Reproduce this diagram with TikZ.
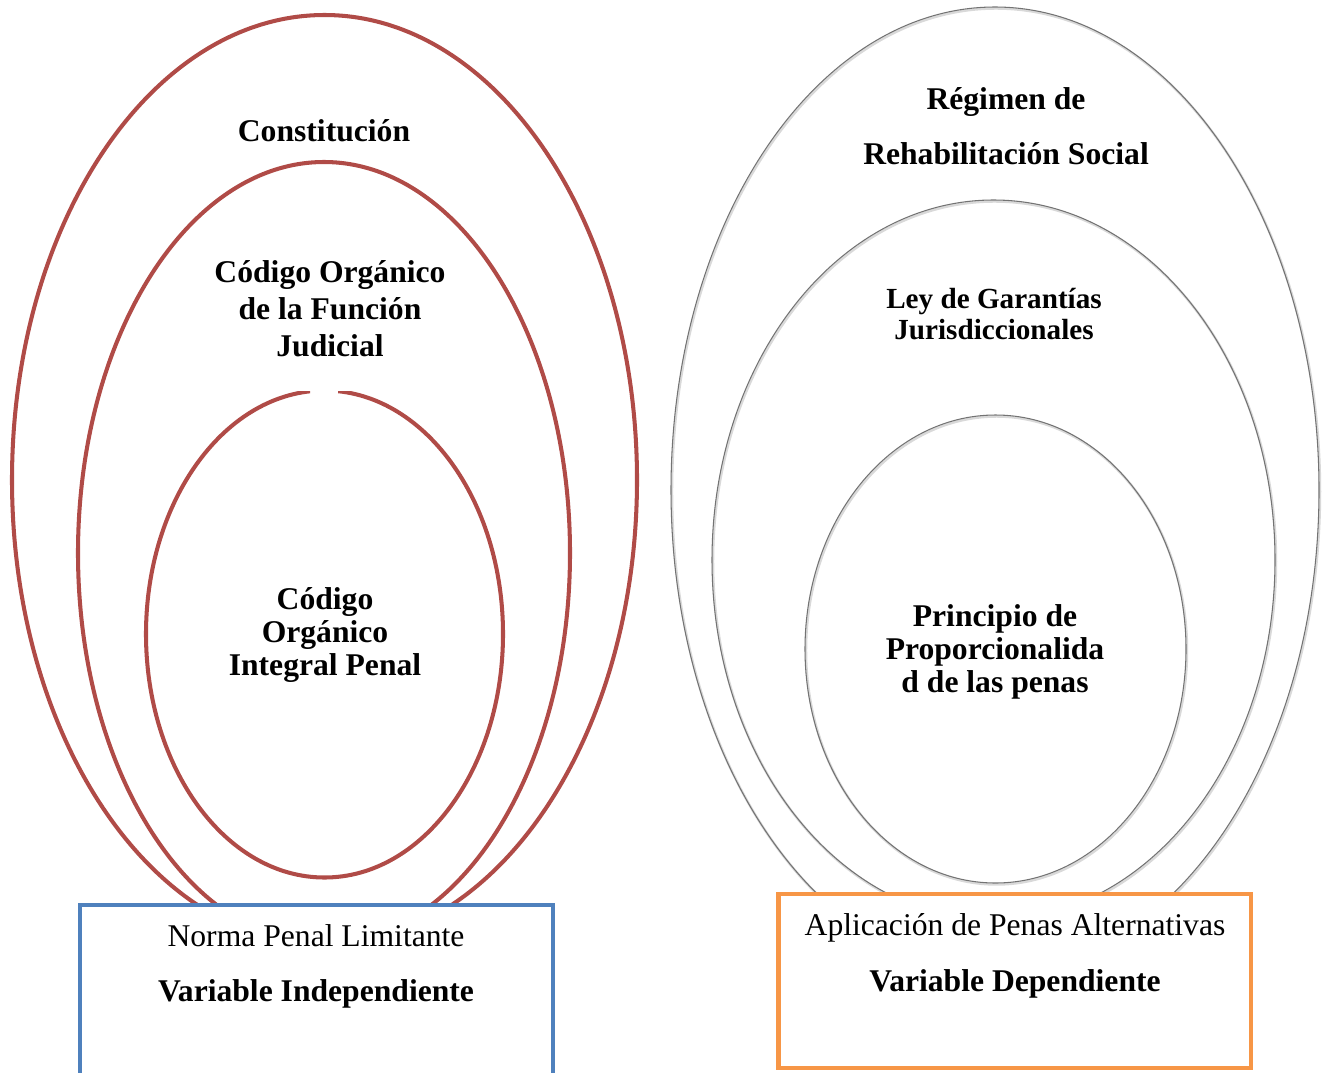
\documentclass[tikz,border=0pt]{standalone}
\usepackage{fontspec}
\setmainfont{Liberation Serif}
\usetikzlibrary{positioning}
\definecolor{ringred}{RGB}{176,75,71}
\definecolor{indepblue}{RGB}{79,129,189}
\definecolor{deporange}{RGB}{247,150,70}

\begin{document}
\begin{tikzpicture}[x=0.02cm, y=-0.02cm,
  redring/.style={draw=ringred, line width=2.3pt},
  grayring/.style={draw=black!55, line width=0.6pt},
  ringshade/.style={draw=black!15, line width=1.4pt},
  lbl/.style={font=\fontsize{18}{21}\selectfont\bfseries, align=center, inner sep=0pt},
  varbox/.style={draw, fill=white, line width=2.6pt, minimum width=9.46cm, inner sep=0pt},
  vartxt/.style={font=\fontsize{18}{21}\selectfont, inner sep=0pt}]
\clip (0,0) rectangle (1331,1072);

% variable independiente: normas
\draw[redring] (324.5,480) ellipse [x radius=312.5, y radius=465];
\draw[redring] (324,553) ellipse [x radius=246, y radius=391];
\begin{scope}
  \clip (100,391) rectangle (310,900) (338,391) rectangle (560,900) (310,400) rectangle (338,900);
  \draw[redring] (324.5,634) ellipse [x radius=178.5, y radius=243.5];
\end{scope}

\node[lbl] (const) at (324,131) {Constitución};
\node[lbl] (cofj) at (330,309) {Código Orgánico\\de la Función\\Judicial};
\node[lbl, font=\fontsize{18}{18.8}\selectfont\bfseries] (coip) at (325,635) {Código\\Orgánico\\Integral Penal};

% variable dependiente
\foreach \cx/\cy/\rx/\ry in {995/490/324/483, 993.5/560/281.5/360, 995.5/649/190.5/234}{
  \draw[ringshade] (\cx+1,\cy+1.5) ellipse [x radius=\rx, y radius=\ry];
  \draw[grayring] (\cx,\cy) ellipse [x radius=\rx, y radius=\ry];
}

\node[lbl, font=\fontsize{18}{31.3}\selectfont\bfseries] (regimen) at (1006,126) {Régimen de\\Rehabilitación Social};
\node[lbl, font=\fontsize{16.6}{17.6}\selectfont\bfseries] (garantias) at (994,314) {Ley de Garantías\\Jurisdiccionales};
\node[lbl, font=\fontsize{18}{18.8}\selectfont\bfseries] (proporc) at (995,652) {Principio de\\Proporcionalida\\d de las penas};

% cajas
\node[varbox, draw=indepblue, minimum height=3.8cm] (indep) at (316.5,1000) {};
\node[vartxt] (indepname) at (316,936) {Norma Penal Limitante};
\node[vartxt, font=\fontsize{18}{21}\selectfont\bfseries] (indepvar) at (316,994) {Variable Independiente};

\node[varbox, draw=deporange, line width=2.8pt, minimum height=3.48cm] (dep) at (1014.5,981) {};
\node[vartxt] (depname) at (1015,928) {Aplicación de Penas Alternativas};
\node[vartxt, font=\fontsize{18}{21}\selectfont\bfseries] (depvar) at (1015,984) {Variable Dependiente};
\end{tikzpicture}
\end{document}
